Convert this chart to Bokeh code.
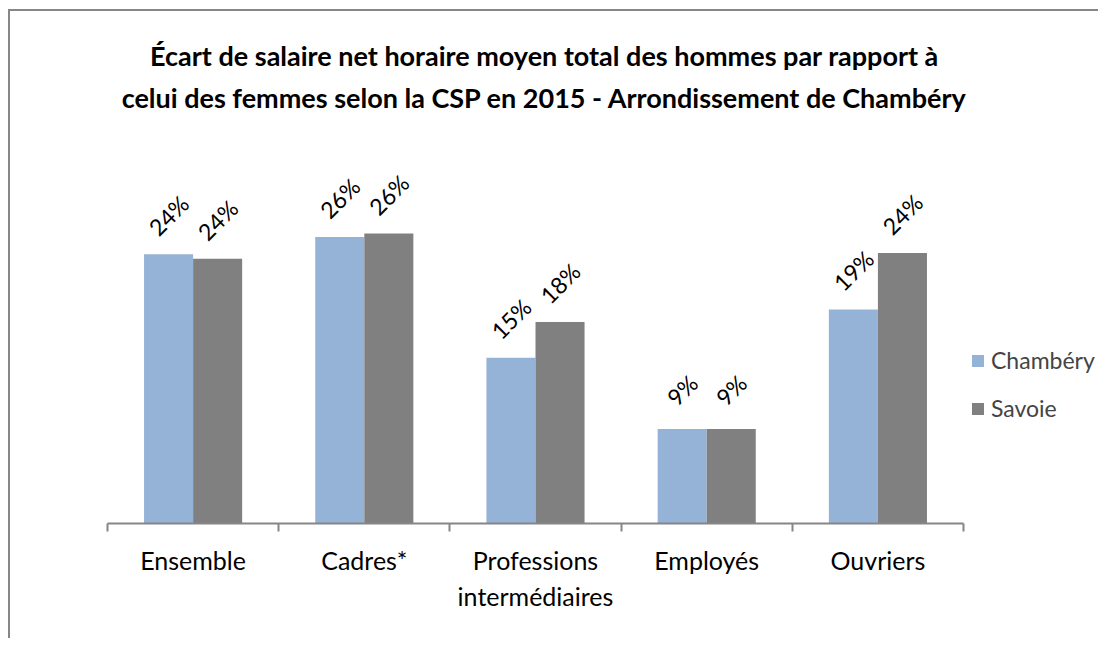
import math
from bokeh.plotting import figure
from bokeh.models import Range1d, FixedTicker, ColumnDataSource, Legend, LegendItem, Label
from bokeh.transform import dodge
from bokeh.core.properties import value
from bokeh.embed import file_html
from bokeh.resources import INLINE

# ---- data ----
categories = ["Ensemble", "Cadres*", "Professions\nintermédiaires", "Employés", "Ouvriers"]
chambery = [24.1, 25.6, 15.1, 8.9, 19.3]
savoie = [23.7, 25.9, 18.2, 8.9, 24.2]
series_names = ["Chambéry", "Savoie"]
title_lines = ["Écart de salaire net horaire moyen total des hommes par rapport à",
               "celui des femmes selon la CSP en 2015 - Arrondissement de Chambéry"]

FONT = "Lato"
BLUE = "#95B3D7"
GREY = "#808080"
AXIS = "#868686"

# ---- layout (pixels) ----
W, H = 1098, 638
LEFT, BOTTOM, TOP = 107, 115, 10
CAT_PX = 171.2            # width of one category
PX_PER_UNIT = 11.496      # vertical pixels per percentage point
Y0 = 0.68                 # value at the axis line
frame_w = W - LEFT
frame_h = H - BOTTOM - TOP
n = len(categories)


def px_to_x(px):
    return (px - LEFT) / CAT_PX


def px_to_y(py):
    return Y0 + (H - BOTTOM - py) / PX_PER_UNIT


xs = [i + 0.5 for i in range(n)]
src = ColumnDataSource(dict(
    x=xs,
    ch=chambery,
    sv=savoie,
    ch_lab=[f"{v:.0f}%" for v in chambery],
    sv_lab=[f"{v:.0f}%" for v in savoie],
))

p = figure(width=W, height=H, output_backend="svg", toolbar_location=None,
           x_range=Range1d(0, frame_w / CAT_PX),
           y_range=Range1d(Y0, Y0 + frame_h / PX_PER_UNIT),
           min_border_left=LEFT, min_border_right=0, min_border_top=TOP,
           min_border_bottom=BOTTOM)
p.outline_line_color = None
p.xgrid.visible = False
p.ygrid.visible = False
p.yaxis.visible = False
p.border_fill_alpha = 0
p.background_fill_alpha = 0
p.styles = {
    "background": ("linear-gradient(#878787,#878787) 8px 9px / 2px 100% no-repeat, "
                   "linear-gradient(#878787,#878787) 8px 9px / 100% 2px no-repeat, #ffffff"),
}

# title: two centred bold lines
for txt, base in zip(title_lines, (55, 97)):
    p.add_layout(Label(x=px_to_x(544), y=px_to_y(base), text=txt,
                       text_align="center", text_baseline="alphabetic",
                       text_font=FONT, text_font_style="bold",
                       text_font_size="27px", text_color="#000000"))

bw = 0.2865
off = 0.1433
r1 = p.vbar(x=dodge("x", -off, range=p.x_range), top="ch", bottom=0, width=bw,
            source=src, fill_color=BLUE, line_color=None)
r2 = p.vbar(x=dodge("x", off, range=p.x_range), top="sv", bottom=0, width=bw,
            source=src, fill_color=GREY, line_color=None)

for col, lab, dx in (("ch", "ch_lab", -off), ("sv", "sv_lab", off)):
    p.text(x=dodge("x", dx, range=p.x_range), y=col, text=lab, source=src,
           angle=math.pi / 4, text_align="center", text_baseline="middle",
           y_offset=-39, text_font=value(FONT), text_font_size="23px",
           text_color="#000000")

# x axis
ax = p.xaxis[0]
ax.bounds = (0, n)
ax.ticker = FixedTicker(ticks=xs, minor_ticks=list(range(n + 1)))
ax.major_label_overrides = {x: c for x, c in zip(xs, categories)}
ax.major_tick_line_color = None
ax.major_tick_out = 0
ax.major_tick_in = 0
ax.minor_tick_line_color = AXIS
ax.minor_tick_line_width = 2
ax.minor_tick_out = 8
ax.minor_tick_in = 0
ax.axis_line_color = AXIS
ax.axis_line_width = 2
ax.major_label_text_font = FONT
ax.major_label_text_font_size = "25px"
ax.major_label_text_color = "#000000"
ax.major_label_standoff = 13

legend = Legend(items=[LegendItem(label=series_names[0], renderers=[r1]),
                       LegendItem(label=series_names[1], renderers=[r2])],
                location=(863, 101))
legend.label_text_font = FONT
legend.label_text_font_size = "23px"
legend.glyph_width = 15
legend.glyph_height = 15
legend.label_standoff = 6
legend.label_height = 24
legend.spacing = 20
legend.padding = 0
legend.margin = 0
legend.border_line_color = None
legend.background_fill_alpha = 0
p.add_layout(legend, "center")

open("out.html", "w").write(file_html(p, INLINE))
